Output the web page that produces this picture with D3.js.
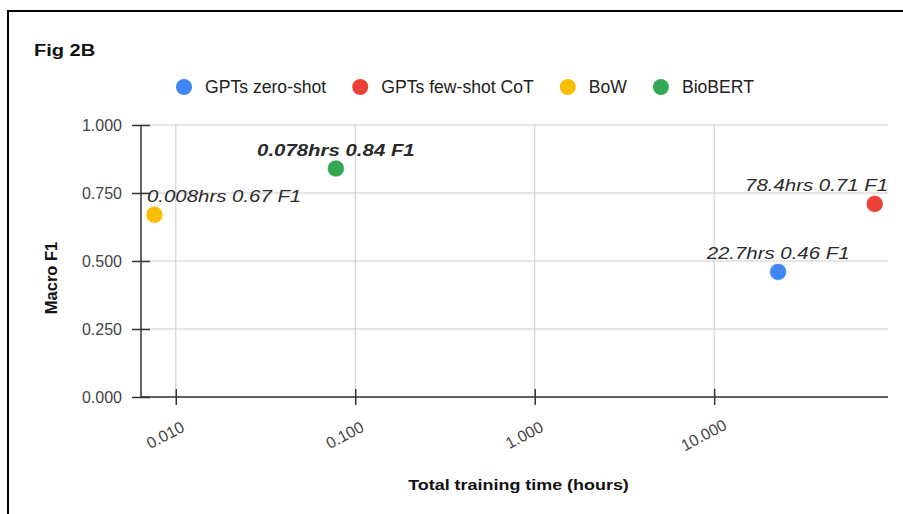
<!DOCTYPE html>
<html>
<head>
<meta charset="utf-8">
<script src="https://cdn.jsdelivr.net/npm/d3@7"></script>
<style>
  body { margin: 0; background: #fff; }
  svg { display: block; font-family: Arial, "Liberation Sans", sans-serif; }
</style>
</head>
<body>
<div id="chart"></div>
<script>
// values
const seriesNames = ["GPTs zero-shot", "GPTs few-shot CoT", "BoW", "BioBERT"];
const seriesColors = ["#4285f4", "#ea4335", "#fbbc04", "#34a853"];
const trainingHours = [22.7, 78.4, 0.0076, 0.078];
const macroF1 = [0.46, 0.71, 0.67, 0.84];
const pointLabels = ["22.7hrs 0.46 F1", "78.4hrs 0.71 F1", "0.008hrs 0.67 F1", "0.078hrs 0.84 F1"];
const boldLabel = [false, false, false, true];
const xTicks = [0.01, 0.1, 1, 10];
const yTicks = [0, 0.25, 0.5, 0.75, 1];

const W = 903, H = 514;
const plot = {left: 141, right: 888, top: 125, bottom: 397};
const stretch = 1.18; // the reference text is a bit wide

const svg = d3.select("#chart").append("svg")
    .attr("width", W)
    .attr("height", H);

// frame, runs off the right and bottom of the picture
svg.append("rect")
    .attr("x", 8).attr("y", 11)
    .attr("width", W + 20).attr("height", H + 20)
    .attr("fill", "none")
    .attr("stroke", "#000")
    .attr("stroke-width", 2);

const x = d3.scaleLog()
    .domain([0.0064, 93])
    .range([plot.left, plot.right]);

const y = d3.scaleLinear()
    .domain([0, 1])
    .range([plot.bottom, plot.top]);

// grid
svg.append("g")
  .selectAll("line")
  .data(yTicks)
  .join("line")
    .attr("x1", plot.left).attr("x2", plot.right)
    .attr("y1", d => y(d)).attr("y2", d => y(d))
    .attr("stroke", "#cccccc");

svg.append("g")
  .selectAll("line")
  .data(xTicks)
  .join("line")
    .attr("x1", d => x(d)).attr("x2", d => x(d))
    .attr("y1", plot.top).attr("y2", plot.bottom)
    .attr("stroke", "#cccccc");

// y axis
const yAxis = svg.append("g")
    .attr("transform", `translate(${plot.left},0)`)
    .call(d3.axisLeft(y).tickValues(yTicks).tickFormat(d3.format(".3f"))
      .tickSize(9).tickPadding(10));
yAxis.select(".domain").attr("stroke", "#333").attr("stroke-width", 1.5)
    .attr("d", `M0,${plot.top}V${plot.bottom}`);
yAxis.selectAll(".tick line").attr("x1", 9).attr("stroke", "#333").attr("stroke-width", 1.5);
yAxis.selectAll(".tick text")
    .attr("fill", "#444")
    .style("font-size", "16px")
    .style("font-family", "Arial, 'Liberation Sans', sans-serif");

// x axis
const xAxis = svg.append("g")
    .attr("transform", `translate(0,${plot.bottom})`)
    .call(d3.axisBottom(x).tickValues(xTicks).tickFormat(d3.format(".3f")).tickSize(8));
xAxis.select(".domain").attr("stroke", "#333").attr("stroke-width", 1.5)
    .attr("d", `M${plot.left},0H${plot.right}`);
xAxis.selectAll(".tick line").attr("y1", -8).attr("stroke", "#333").attr("stroke-width", 1.5);
xAxis.selectAll(".tick text")
    .attr("y", null)
    .attr("dy", "0.35em")
    .attr("text-anchor", "middle")
    .attr("transform", "translate(-11,38) rotate(-28)")
    .attr("fill", "#444")
    .style("font-size", "16px")
    .style("font-family", "Arial, 'Liberation Sans', sans-serif");

// titles
function wideText(g, tx, ty, str) {
  return g.append("text")
      .attr("transform", `translate(${tx},${ty}) scale(${stretch},1)`)
      .text(str);
}

wideText(svg, 34, 56, "Fig 2B")
    .attr("font-weight", "bold")
    .attr("font-size", 17)
    .attr("fill", "#111");

wideText(svg, (plot.left + plot.right) / 2 + 4, 490, "Total training time (hours)")
    .attr("text-anchor", "middle")
    .attr("font-weight", "bold")
    .attr("font-size", 15.2)
    .attr("fill", "#111");

svg.append("text")
    .attr("transform", "translate(56.5,278) rotate(-90)")
    .attr("text-anchor", "middle")
    .attr("font-weight", "bold")
    .attr("font-size", 16.5)
    .attr("fill", "#111")
    .text("Macro F1");

// legend
const legend = svg.append("g");
let lx = 184;
seriesNames.forEach(function(name, i) {
  legend.append("circle")
      .attr("cx", lx).attr("cy", 87).attr("r", 8)
      .attr("fill", seriesColors[i]);
  const t = legend.append("text")
      .attr("x", lx + 21).attr("y", 93)
      .attr("font-size", 17.6)
      .attr("fill", "#222")
      .text(name);
  lx += 21 + t.node().getComputedTextLength() + 34;
});

// points
const idx = d3.range(seriesNames.length);
svg.append("g")
  .selectAll("circle")
  .data(idx)
  .join("circle")
    .attr("cx", i => x(trainingHours[i]))
    .attr("cy", i => y(macroF1[i]))
    .attr("r", 8.5)
    .attr("fill", i => seriesColors[i])
    .attr("stroke", "#fff")
    .attr("stroke-opacity", 0.6)
    .attr("stroke-width", 1);

// point labels, centred above the point but kept inside the plot
const labels = svg.append("g");
idx.forEach(function(i) {
  const px = x(trainingHours[i]), py = y(macroF1[i]) - 13;
  const t = wideText(labels, px, py, pointLabels[i])
      .attr("font-style", "italic")
      .attr("font-weight", boldLabel[i] ? "bold" : null)
      .attr("font-size", 17.3)
      .attr("fill", "#2a2a2a");
  const w = t.node().getComputedTextLength() * stretch;
  let left = px - w / 2;
  if (left < plot.left + 6) left = plot.left + 6;
  if (left + w > plot.right) left = plot.right - w;
  t.attr("transform", `translate(${left},${py}) scale(${stretch},1)`);
});
</script>
</body>
</html>
